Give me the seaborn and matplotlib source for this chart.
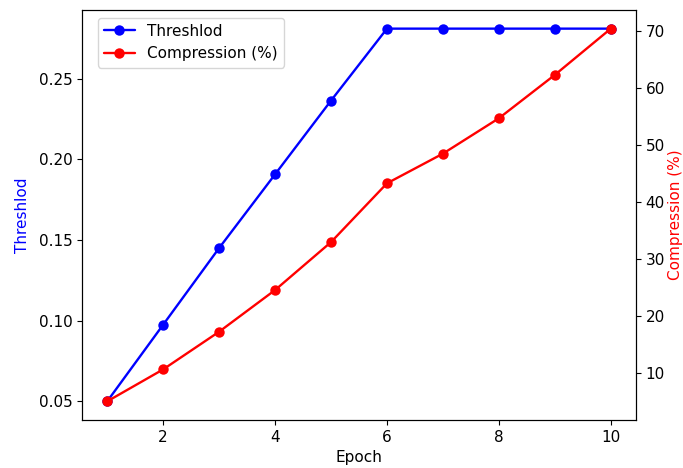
import numpy as np
import pandas as pd
import seaborn as sns
import matplotlib.pyplot as plt

epochs = [1, 2, 3, 4, 5, 6, 7, 8, 9, 10]
threshold = [0.050, 0.0975, 0.145, 0.1907, 0.2364, 0.281, 0.281, 0.281, 0.281, 0.281]
compression = [5.1, 10.7, 17.3, 24.6, 33.0, 43.3, 48.5, 54.7, 62.3, 70.4]

df = pd.DataFrame({'epoch': epochs, 'threshold': threshold, 'compression': compression})

sns.set_style("ticks", {'axes.edgecolor': 'black', 'text.color': 'black',
                        'xtick.color': 'black', 'ytick.color': 'black',
                        'axes.labelcolor': 'black'})
plt.rcParams['font.family'] = ['DejaVu Sans']
plt.rcParams['font.size'] = 11
fig, ax = plt.subplots(figsize=(6.83, 4.68), dpi=100)
fig.subplots_adjust(left=82/683, right=636/683, top=1-10/468, bottom=1-420/468)

sns.lineplot(data=df, x='epoch', y='threshold', ax=ax, color='blue', marker='o',
             markersize=7.5, markeredgewidth=0, linewidth=1.7, label='Threshlod', legend=False)
ax2 = ax.twinx()
sns.lineplot(data=df, x='epoch', y='compression', ax=ax2, color='red', marker='o',
             markersize=7.5, markeredgewidth=0, linewidth=1.7, label='Compression (%)', legend=False)

ax.set_xlabel('Epoch', fontsize=11)
ax.set_ylabel('Threshlod', color='blue', fontsize=11, labelpad=6)
ax2.set_ylabel('Compression (%)', color='red', fontsize=11, labelpad=2)
ax.set_xticks([2, 4, 6, 8, 10])
ax.set_yticks([0.05, 0.10, 0.15, 0.20, 0.25])
ax2.set_yticks([10, 20, 30, 40, 50, 60, 70])
ax.tick_params(labelsize=11)
ax2.tick_params(labelsize=11)

h1, l1 = ax.get_legend_handles_labels()
h2, l2 = ax2.get_legend_handles_labels()
ax.legend(h1 + h2, l1 + l2, loc='upper left', bbox_to_anchor=(0.015, 1.0), fontsize=11)

fig.savefig('out.png', dpi=100)
